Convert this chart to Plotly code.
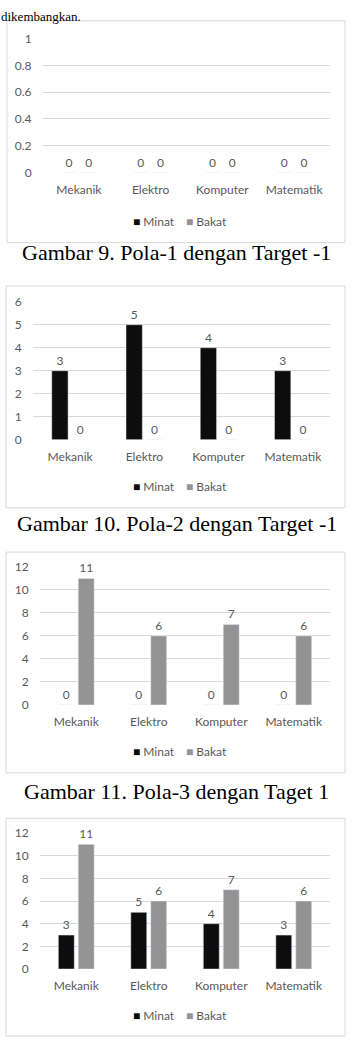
import plotly.graph_objects as go

W, H = 353, 1048

categories = ["Mekanik", "Elektro", "Komputer", "Matematik"]
minat_1 = [0, 0, 0, 0]
bakat_1 = [0, 0, 0, 0]
minat_2 = [3, 5, 4, 3]
bakat_2 = [0, 0, 0, 0]
minat_3 = [0, 0, 0, 0]
bakat_3 = [11, 6, 7, 6]
minat_4 = [3, 5, 4, 3]
bakat_4 = [11, 6, 7, 6]
series_names = ["Minat", "Bakat"]
y_ranges = [[0, 1], [0, 6], [0, 12], [0, 12]]
y_dticks = [0.2, 1, 2, 2]
captions = [
    "Gambar 9. Pola-1 dengan Target -1",
    "Gambar 10. Pola-2 dengan Target -1",
    "Gambar 11. Pola-3 dengan Taget 1",
]
top_text = "dikembangkan."

# geometry in pixels (from top-left)
boxes = [(7, 13, 345, 238), (6, 282, 345, 507), (6, 552, 345, 776), (6, 822, 345, 1043)]
plot_x = [(43, 330), (33, 330), (40, 330), (40, 330)]
plot_y = [(31, 167), (298, 438), (567, 707), (837, 975)]
legend_y = [216, 485, 754, 1022]
legend_x = 133
caption_y = [248, 523, 795]

MINAT_C = "#0d0d0d"
BAKAT_C = "#939393"
TXT_C = "#595959"
GRID_C = "#d9d9d9"
SANS = "Lato"
SERIF = "Liberation Serif"

data = [(minat_1, bakat_1), (minat_2, bakat_2), (minat_3, bakat_3), (minat_4, bakat_4)]


def px_x(x):
    return x / W


def px_y(y):
    return 1 - y / H


fig = go.Figure()
layout = {}
shapes = []
annotations = []
for i, (mv, bv) in enumerate(data):
    n = i + 1
    xa = "x" if n == 1 else f"x{n}"
    ya = "y" if n == 1 else f"y{n}"
    lg = "legend" if n == 1 else f"legend{n}"
    for name, vals, col in zip(series_names, (mv, bv), (MINAT_C, BAKAT_C)):
        fig.add_trace(go.Bar(
            x=categories, y=vals, name=name, marker_color=col,
            text=vals, texttemplate="%{y}", textposition="outside",
            textfont=dict(family=SANS, size=12, color=TXT_C),
            cliponaxis=False, showlegend=False, xaxis=xa, yaxis=ya,
        ))
    for k, (name, col) in enumerate(zip(series_names, (MINAT_C, BAKAT_C))):
        fig.add_trace(go.Scatter(
            x=[None], y=[None], mode="markers",
            name=f"<span style='color:{col}'>■</span> {name}",
            marker=dict(symbol="square", size=1, color="rgba(0,0,0,0)"),
            legend=lg, legendwidth=8 if k == 0 else 48, xaxis=xa, yaxis=ya,
        ))
    x0, x1 = plot_x[i]
    y0, y1 = plot_y[i]
    layout["xaxis" if n == 1 else f"xaxis{n}"] = dict(
        domain=[px_x(x0), px_x(x1)], anchor=ya, showgrid=False, showline=False,
        zeroline=False, ticks="outside", ticklen=6, tickcolor="rgba(0,0,0,0)",
        tickfont=dict(family=SANS, size=12, color=TXT_C), fixedrange=True,
    )
    layout["yaxis" if n == 1 else f"yaxis{n}"] = dict(
        domain=[px_y(y1), px_y(y0)], anchor=xa, range=y_ranges[i], dtick=y_dticks[i],
        showgrid=True, gridcolor=GRID_C, gridwidth=1, zeroline=False, showline=False,
        ticks="outside", ticklen=8, tickcolor="rgba(0,0,0,0)",
        tickfont=dict(family=SANS, size=12, color=TXT_C), fixedrange=True,
    )
    layout[lg] = dict(
        orientation="h", x=px_x(legend_x - 40), xanchor="left",
        y=px_y(legend_y[i]), yanchor="middle",
        font=dict(family=SANS, size=12, color=TXT_C), bgcolor="rgba(0,0,0,0)",
        itemwidth=30, tracegroupgap=0,
    )
    bx0, by0, bx1, by1 = boxes[i]
    shapes.append(dict(type="rect", xref="paper", yref="paper",
                       x0=px_x(bx0), x1=px_x(bx1), y0=px_y(by1), y1=px_y(by0),
                       line=dict(color=GRID_C, width=1), fillcolor="rgba(0,0,0,0)", layer="below"))

for cap, cy in zip(captions, caption_y):
    annotations.append(dict(text=cap, xref="paper", yref="paper", x=0.5, y=px_y(cy),
                            xanchor="center", yanchor="middle", showarrow=False,
                            font=dict(family=SERIF, size=22, color="#000000")))
annotations.append(dict(text=top_text, xref="paper", yref="paper", x=0, y=1,
                        xanchor="left", yanchor="top", showarrow=False, borderpad=0,
                        font=dict(family=SERIF, size=13, color="#000000")))

fig.update_layout(
    width=W, height=H, margin=dict(l=0, r=0, t=0, b=0),
    paper_bgcolor="white", plot_bgcolor="white",
    barmode="group", bargap=0.45, bargroupgap=0.2,
    shapes=shapes, annotations=annotations, **layout,
)
fig.write_html("out.html", config={"displayModeBar": False})
